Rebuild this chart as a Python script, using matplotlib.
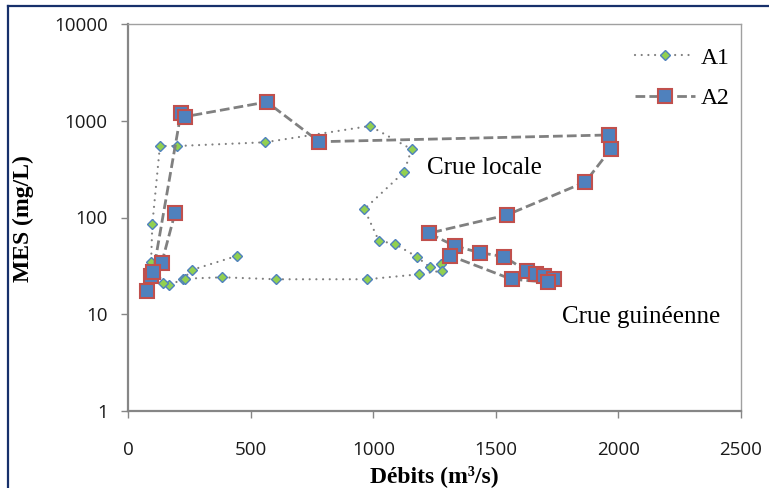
import matplotlib
matplotlib.use('Agg')
import matplotlib.pyplot as plt
from matplotlib.lines import Line2D
from matplotlib.ticker import NullLocator

# ---- data ----
a1_q = [442, 259, 224, 167, 143, 93, 98, 129, 197, 558, 986, 1156, 1125, 963,
        1022, 1088, 1177, 1231, 1275, 1279, 1187, 975, 603, 384, 230]
a1_mes = [40, 28.7, 23, 20.1, 20.9, 34.9, 85, 548, 548, 599, 883, 507, 295, 122,
          57.6, 53.2, 39.3, 30.6, 32.8, 28.2, 25.9, 23, 23, 24.1, 23.3]

a2_q = [190, 136, 75, 93, 102, 215, 231, 565, 779, 1962, 1968, 1865, 1544, 1226,
        1333, 1435, 1534, 1625, 1663, 1696, 1737, 1711, 1564, 1313]
a2_mes = [110, 33.6, 17.5, 25, 27.5, 1211, 1102, 1563, 607, 713, 507, 233, 106, 68.7,
          50.7, 43.3, 39.3, 28, 26, 24.9, 23, 21.5, 23, 40.3]

series_names = ['A1', 'A2']
x_ticks = [0, 500, 1000, 1500, 2000, 2500]
y_ticks = [1, 10, 100, 1000, 10000]
y_tick_labels = ['1', '10', '100', '1000', '10000']
x_label = 'Débits (m³/s)'
y_label = 'MES (mg/L)'
annotations = [('Crue locale', 1217, 282), ('Crue guinéenne', 1770, 8.18)]

SERIF = ['Liberation Serif', 'DejaVu Serif']
SANS = ['Open Sans', 'DejaVu Sans']

W, H = 769, 488
fig = plt.figure(figsize=(W / 100, H / 100), dpi=100)
fig.patch.set_facecolor('white')

left_px, right_px, top_px, bottom_px = 128.3, 741, 24, 411
ax = fig.add_axes([left_px / W, 1 - bottom_px / H,
                   (right_px - left_px) / W, (bottom_px - top_px) / H])
ax.set_yscale('log')
ax.set_xlim(0, 2500)
ax.set_ylim(1, 10000)

ax.plot(a1_q, a1_mes, color='#7f7f7f', lw=1.6, linestyle=(0, (0.01, 3.0)),
        dash_capstyle='round', marker='D', ms=5.5, mfc='#92d050', mec='#4f81bd',
        mew=1.0, label=series_names[0], zorder=3)
ax.plot(a2_q, a2_mes, color='#808080', lw=2.0, linestyle=(0, (3.5, 1.5)),
        dash_capstyle='butt', marker='s', ms=10, mfc='#4f81bd', mec='#c0504d',
        mew=1.5, label=series_names[1], zorder=4)

# axes styling
for s in ['left', 'bottom']:
    ax.spines[s].set_color('#868686')
    ax.spines[s].set_linewidth(1.6)
for s in ['top', 'right']:
    ax.spines[s].set_color('#a0a0a0')
    ax.spines[s].set_linewidth(1.0)

ax.set_xticks(x_ticks)
ax.set_xticklabels([str(v) for v in x_ticks])
ax.set_yticks(y_ticks)
ax.set_yticklabels(y_tick_labels)
ax.yaxis.set_minor_locator(NullLocator())
ax.tick_params(axis='both', direction='out', length=4.8, width=1.0, color='#868686',
               labelsize=13.5, labelcolor='#1a1a1a')
ax.tick_params(axis='y', pad=10)
ax.tick_params(axis='x', pad=17)
for lab in ax.get_xticklabels() + ax.get_yticklabels():
    lab.set_family(SANS)

for txt, xv, yv in annotations:
    ax.text(xv, yv, txt, fontsize=18, family=SERIF, va='baseline', ha='left',
            color='black', zorder=5)

fig.text(434 / W, 1 - 482 / H, x_label, ha='center', va='baseline', fontsize=17,
         fontweight='bold', family=SERIF)
fig.text(23 / W, 1 - 219 / H, y_label, ha='center', va='center', rotation=90,
         fontsize=17, fontweight='bold', family=SERIF)

leg = ax.legend(loc='upper left', bbox_to_anchor=(635 / W, 1 - 47 / H),
                bbox_transform=fig.transFigure, frameon=False,
                prop=dict(family=SERIF, size=17), handlelength=2.55,
                handletextpad=0.25, labelspacing=0.8, borderpad=0,
                borderaxespad=0)

# outer navy frame (partially visible)
navy = '#17306b'
fig.add_artist(Line2D([8 / W, 1.0], [1 - 6 / H, 1 - 6 / H], transform=fig.transFigure,
                      color=navy, lw=1.6))
fig.add_artist(Line2D([8 / W, 8 / W], [0, 1 - 6 / H], transform=fig.transFigure,
                      color=navy, lw=1.6))

fig.savefig('out.png', dpi=100, facecolor='white')
